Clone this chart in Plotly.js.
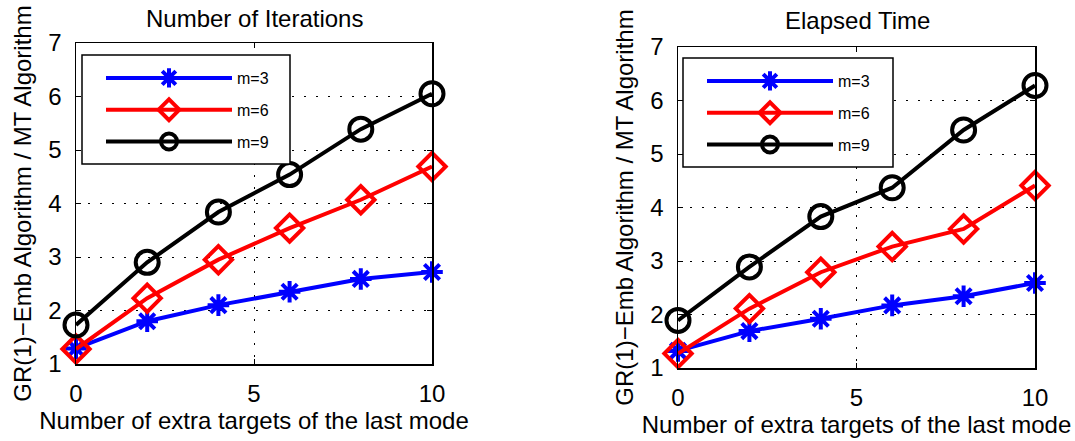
<!DOCTYPE html>
<html>
<head>
<meta charset="utf-8">
<script src="https://cdn.plot.ly/plotly-3.0.1.min.js"></script>
<style>html,body{margin:0;padding:0;background:#fff}#chart{width:1075px;height:441px}</style>
</head>
<body>
<div id="chart"></div>
<script>
// ---- data ----
const xTargets = [0, 2, 4, 6, 8, 10];
const iterM3 = [1.29, 1.80, 2.10, 2.35, 2.59, 2.72];
const iterM6 = [1.28, 2.23, 2.95, 3.54, 4.07, 4.69];
const iterM9 = [1.73, 2.90, 3.84, 4.54, 5.39, 6.05];
const timeM3 = [1.32, 1.69, 1.92, 2.17, 2.34, 2.59];
const timeM6 = [1.27, 2.11, 2.79, 3.27, 3.60, 4.41];
const timeM9 = [1.89, 2.89, 3.83, 4.37, 5.45, 6.28];
const seriesNames = ['m=3', 'm=6', 'm=9'];
const panelTitles = ['Number of Iterations', 'Elapsed Time'];
const xTitle = 'Number of extra targets of the last mode';
const yTitle = 'GR(1)\u2212Emb Algorithm / MT Algorithm';
const xTickVals = [0, 5, 10];
const yTickVals = [1, 2, 3, 4, 5, 6, 7];

const FONT = 'Liberation Sans, Arial, Helvetica, sans-serif';
const colors = ['#0000ff', '#ff0000', '#000000'];
const symbols = ['asterisk-open', 'diamond-open', 'circle-open'];
const msize = [18, 21, 23];

function mk(y, i, xa, ya, leg) {
  return {
    x: xTargets, y: y, type: 'scatter', mode: 'lines+markers',
    name: seriesNames[i], xaxis: xa, yaxis: ya, legend: leg,
    legendgroup: leg + i, cliponaxis: false,
    line: {color: colors[i], width: 4},
    marker: {symbol: symbols[i], size: msize[i], color: colors[i],
             line: {color: colors[i], width: 4}}
  };
}
const data = [
  mk(iterM3, 0, 'x', 'y', 'legend'), mk(iterM6, 1, 'x', 'y', 'legend'), mk(iterM9, 2, 'x', 'y', 'legend'),
  mk(timeM3, 0, 'x2', 'y2', 'legend2'), mk(timeM6, 1, 'x2', 'y2', 'legend2'), mk(timeM9, 2, 'x2', 'y2', 'legend2')
];

function xax(dom, anchor) {
  return {domain: dom, anchor: anchor, range: [0, 10], tickvals: xTickVals,
    ticks: 'inside', ticklen: 5, tickcolor: '#000', showline: true, linecolor: '#000', linewidth: 1.5,
    mirror: 'ticks', showgrid: true, gridcolor: '#000', gridwidth: 1, griddash: '2px,10px',
    zeroline: false, tickfont: {family: FONT, size: 24, color: '#000'}, ticklabelstandoff: 8,
    title: {text: xTitle, font: {family: FONT, size: 24, color: '#000'}, standoff: 6}, automargin: false};
}
function yax(dom, anchor) {
  return {domain: dom, anchor: anchor, range: [1, 7], tickvals: yTickVals,
    ticks: 'inside', ticklen: 5, tickcolor: '#000', showline: true, linecolor: '#000', linewidth: 1.5,
    mirror: 'ticks', showgrid: true, gridcolor: '#000', gridwidth: 1, griddash: '2px,10px',
    zeroline: false, tickfont: {family: FONT, size: 24, color: '#000'}, ticklabelstandoff: 8,
    title: {text: yTitle, font: {family: FONT, size: 24, color: '#000'}, standoff: 10}, automargin: false};
}
function leg(x, y) {
  return {x: x, y: y, xanchor: 'left', yanchor: 'top', bgcolor: 'rgba(0,0,0,0)', borderwidth: 0,
    font: {family: FONT, size: 16, color: '#000'}, itemwidth: 126, tracegroupgap: 8, itemclick: false};
}
function legBox(x0, y0, x1, y1) {
  return {type: 'rect', xref: 'paper', yref: 'paper', x0: x0/1075, x1: x1/1075, y0: 1 - y1/441, y1: 1 - y0/441,
    fillcolor: '#fff', line: {color: '#000', width: 1.5}, layer: 'above'};
}

const layout = {
  width: 1075, height: 441, margin: {l: 0, r: 0, t: 0, b: 0},
  paper_bgcolor: '#fff', plot_bgcolor: '#fff', showlegend: true,
  xaxis: xax([76/1075, 432/1075], 'y'),
  yaxis: yax([1 - 364/441, 1 - 43/441], 'x'),
  xaxis2: xax([678/1075, 1035/1075], 'y2'),
  yaxis2: yax([1 - 368/441, 1 - 47/441], 'x2'),
  legend: leg(101/1075, 1 - 61/441),
  legend2: leg(702/1075, 1 - 64/441),
  shapes: [legBox(82, 55, 290, 164), legBox(683, 58, 893, 167)],
  annotations: [
    {text: panelTitles[0], xref: 'paper', yref: 'paper', x: 254/1075, y: 1 - 18/441, xanchor: 'center', yanchor: 'middle',
     showarrow: false, font: {family: FONT, size: 24, color: '#000'}},
    {text: panelTitles[1], xref: 'paper', yref: 'paper', x: 857/1075, y: 1 - 20/441, xanchor: 'center', yanchor: 'middle',
     showarrow: false, font: {family: FONT, size: 24, color: '#000'}}
  ]
};
Plotly.newPlot('chart', data, layout, {staticPlot: true, displayModeBar: false});
</script>
</body>
</html>
